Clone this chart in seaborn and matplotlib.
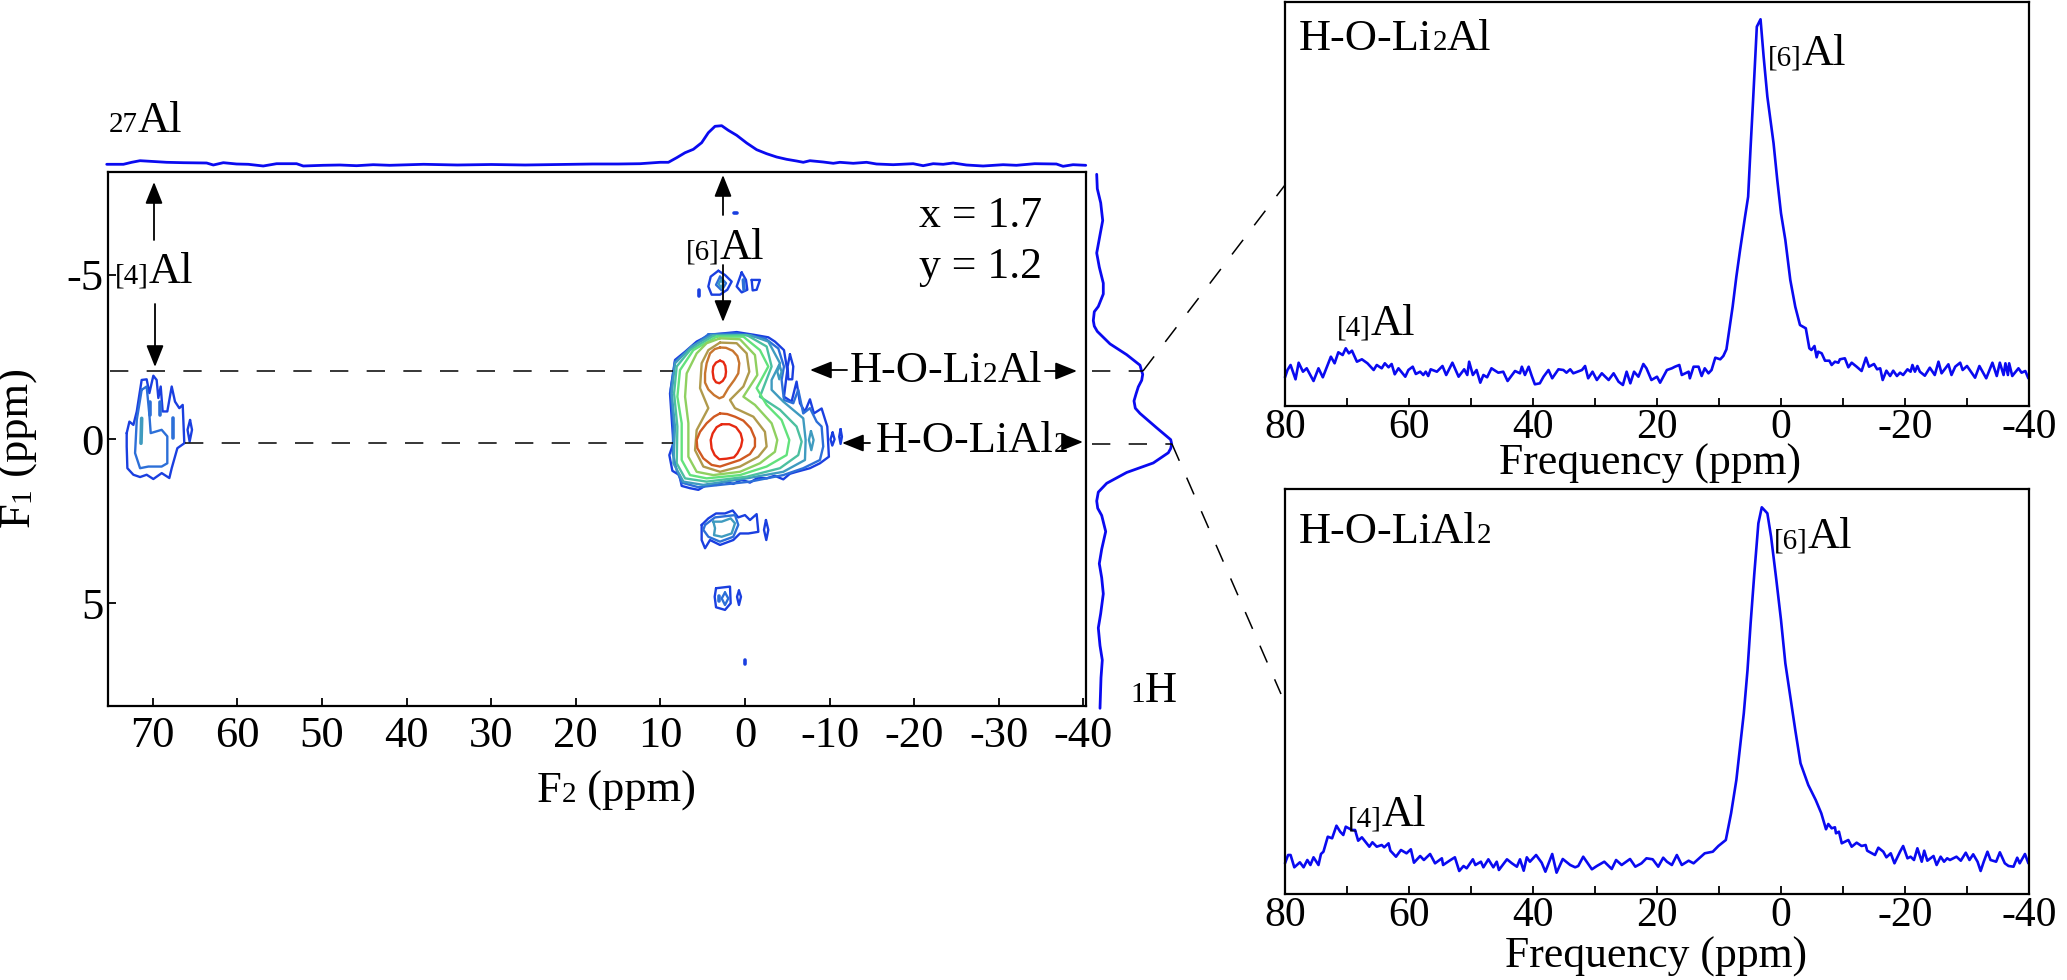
import matplotlib
matplotlib.use("Agg")
import matplotlib.pyplot as plt
import seaborn as sns

sns.set_theme(style="ticks")
plt.rcParams['font.family'] = ['Liberation Serif', 'DejaVu Serif']
plt.rcParams['axes.unicode_minus'] = False

W, H = 2067, 980
BLUE = '#0a0af0'
C1, C2, C3, C4, C5, C6, C7, C8, C9, C10 = ('#1a3fe0', '#2c6fd8', '#3f9bbf', '#4cc0a0', '#62e27c',
                                           '#8fd060', '#b09a4c', '#c8752f', '#d05a22', '#e62a12')

# ---- tick values and labels
F2_TICKS = [70, 60, 50, 40, 30, 20, 10, 0, -10, -20, -30, -40]
F2_LABELS = ['70', '60', '50', '40', '30', '20', '10', '0', '-10', '-20', '-30', '-40']
F1_TICKS = [-5, 0, 5]
F1_LABELS = ['-5', '0', '5']
FREQ_TICKS = [80, 70, 60, 50, 40, 30, 20, 10, 0, -10, -20, -30, -40]
FREQ_LABELS = ['80', '', '60', '', '40', '', '20', '', '0', '', '-20', '', '-40']

# ---- 27Al projection (F2 ppm, intensity)
AL_PPM = [75.45, 73.48, 72.5, 71.51, 70.33, 68.37, 66.4, 63.64, 62.85, 61.67, 60.1, 58.72, 56.95, 55.37, 53.01,
          52.22, 49.86, 47.89, 45.92, 43.95, 41.99, 38, 34, 30, 26, 22, 18, 15,
          12.41, 11.23, 10.05, 9.06, 8.08, 7.09, 6.11, 5.13, 4.34, 3.55, 2.76, 1.98, 0.99, -0.19, -1.37, -2.55,
          -3.73, -4.91, -6.09, -6.88, -7.67, -9.24, -10.43, -11.21, -12.79, -14.36, -15.54, -17.51, -19.87,
          -21.05, -22.24, -23.42, -24.6, -26.17, -28.14, -30.5, -32.08, -34.24, -36.8, -37.59, -38.77, -40.27]
AL_INT = [7.7, 7.7, 9.7, 11.3, 10.7, 9.7, 9.3, 9, 7, 9.3, 8, 7.7, 6, 8.3, 8.3,
          6, 6.7, 7, 6.3, 7.3, 6.7, 7.7, 7, 7.5, 7, 7.5, 8, 8,
          8.3, 9, 9.7, 9.7, 14.3, 19.3, 22.7, 29.3, 39.3, 45.7, 46.3, 41.7, 36.7, 29, 22.3, 18.3,
          15, 12.7, 11, 9.7, 11.3, 10, 8.7, 9.7, 8.7, 9.7, 8, 7.3, 8.3,
          6.3, 8.3, 7.7, 9, 7, 6, 7.3, 6.7, 8.3, 8, 5.7, 7.3, 6.7]

# ---- 1H projection (intensity, F1 ppm)
H_INT = [9.7, 10.3, 13.7, 15.7, 13, 9.7, 12.3, 16.3, 16.3, 11.3, 7.3, 6.3, 7.3, 10.3, 23, 39.7, 53, 54, 55.7, 54.7, 51.3,
         49, 47, 48.3, 53, 69.7, 83.7, 84.7, 83.7, 81.3, 66.3, 39.7, 19.7, 11.3, 9.7, 10.7, 14.7, 18.7, 14.7, 12.3, 14.7,
         16.3, 13.7, 11.3, 13, 15.3, 14, 13]
H_PPM = [-8.07, -7.63, -7.2, -6.66, -6.22, -5.67, -5.24, -4.75, -4.42, -4.04, -3.88, -3.61, -3.44, -3.28, -2.9, -2.57, -2.25,
         -2.14, -1.97, -1.79, -1.59, -1.37, -1.16, -0.94, -0.78, -0.34, 0.02, 0.15, 0.29, 0.42, 0.73, 1.02, 1.35, 1.62, 1.89,
         2.11, 2.33, 2.82, 3.36, 3.8, 4.23, 4.72, 5.32, 5.76, 6.3, 6.74, 7.28, 8.21]

# ---- H-O-Li2Al slice
P1_PPM = [80.0, 79.6, 79.1, 78.3, 77.8, 77.1, 76.5, 75.4, 74.6, 73.9, 73.3, 72.6, 72.0, 71.4, 70.7, 70.2, 69.7, 69.2,
          68.4, 67.6, 66.7, 65.7, 65.2, 64.4, 63.9, 63.3, 62.8, 62.3, 61.7, 60.6, 60.1, 59.4, 58.9, 58.2, 57.7, 57.3,
          56.9, 56.5, 55.5, 54.6, 54.0, 53.0, 52.0, 51.1, 50.6, 50.3, 49.7, 49.1, 48.5, 48.0, 47.4, 46.7, 45.6, 44.8,
          44.1, 42.9, 42.1, 41.8, 41.3, 40.7, 40.2, 39.7, 38.9, 38.3, 37.5, 36.9, 35.9, 35.1, 34.6, 34.0, 33.5, 32.1,
          31.6, 31.1, 30.4, 29.7, 28.9, 27.8, 27.0, 26.2, 25.5, 24.9, 24.3, 23.7, 23.0, 22.2, 21.7, 20.9, 20.0, 19.5,
          18.4, 17.6, 17.1, 16.4, 16.0, 14.9, 14.7, 14.1, 13.3, 12.8, 12.3, 11.7, 11.2, 10.6, 9.8, 9.3, 8.8,
          8.3, 7.8, 7.2, 6.6, 5.8, 5.3, 4.9, 4.5, 3.9, 3.3, 2.8, 2.2, 1.2, 0.6, 0, -0.7, -1.5, -2.3,
          -3.06, -4.0, -4.57, -4.9, -5.4, -5.75, -6.0, -6.56, -7.1, -7.8, -8.17, -8.7, -9.25, -9.5, -10.3, -10.86,
          -11.4, -12.2, -13, -13.7, -14.2, -15, -15.5, -16, -16.4, -17, -17.6, -18.1, -18.7, -19.2, -19.7, -20.4,
          -20.9, -21.2, -21.6, -22, -22.4, -23.2, -24, -24.8, -25.4, -25.9, -27, -27.5, -28.1, -28.9, -29.3, -30,
          -31.3, -32, -33.1, -34.1, -34.8, -35.3, -35.9, -36.2, -36.6, -36.8, -37.3, -38.3, -38.8, -39.4, -39.9]
P1_INT = [28.7, 36, 41, 26.7, 43.3, 34.3, 37.7, 25, 37.7, 28.7, 38.3, 49.3, 42.7, 53.7, 51, 57.7, 52.7, 55.3,
          44.3, 46.7, 42.7, 36, 41, 37.7, 42.7, 38.7, 42, 31.7, 37.7, 29.3, 36, 39.3, 32, 34.3, 31, 34.3,
          30, 36.7, 34.3, 40, 31, 43.3, 29.3, 36.7, 31, 44.3, 31, 36, 23.3, 31, 28.7, 37.7, 33.3, 34.3,
          25, 35, 32.7, 39.3, 31, 39.3, 30, 21.7, 22.7, 29.3, 36, 27.7, 36.7, 36, 33.3, 36.7, 32.7, 36,
          40, 27.7, 34.3, 26, 32.7, 26, 32.7, 24.3, 21, 34.3, 22.7, 34.3, 29.3, 42, 37.7, 26, 29.3, 23.3,
          36, 37.7, 39.3, 41, 31, 34.3, 27.7, 39.3, 39.3, 30, 37.7, 32.7, 36, 48.3, 46.7, 50, 56.7,
          77.7, 99.3, 129.3, 156, 189.3, 209.3, 259.3, 306, 379.3, 386.7, 349.3, 309.3, 262.7, 226, 192.7, 166, 126, 99.3,
          81, 77.7, 57.7, 56, 60, 48.7, 54.3, 52.7, 45.3, 45.3, 41, 44.3, 43.3, 46.7, 47.7, 38.7,
          43.3, 39.3, 35, 48.3, 39.3, 42, 36.7, 37.7, 26, 35.3, 30, 35.3, 30, 33.3, 31, 36.7,
          34.3, 41, 34.3, 40, 34.3, 30.3, 38.3, 31, 44.3, 32.7, 41.7, 31, 39.3, 43.3, 36, 40,
          28.3, 40, 27.7, 43.3, 30, 43.3, 31, 42.7, 31, 42.7, 30, 37.7, 33.3, 35, 27.7]

# ---- H-O-LiAl2 slice
P2_PPM = [80, 79.5, 79.1, 78.5, 77.6, 77, 76.4, 75.9, 75.4, 74.6, 74.2, 73.8, 73.1, 72.4, 71.7, 71.1, 70.6, 70.2, 69.2,
          68.7, 68.2, 67.6, 66.4, 65.9, 65.2, 64.4, 64, 63.3, 63, 62.1, 61.3, 60.4, 59.7, 59.2, 58.2, 57.6, 56.6, 55.8,
          54.7, 54.5, 53.3, 52.6, 51.9, 51.2, 50.7, 49.7, 49.3, 48.4, 48, 47.2, 46.4, 45.85, 45.5, 44.2, 43.4, 42.6,
          42.1, 41.5, 41, 40.5, 39.5, 38.6, 38, 36.9, 36.2, 35.2, 34, 33.2, 32.7, 31.9, 30.5, 29.7, 28.5, 27.3, 26.6,
          25.7, 24.35, 23.5, 22.5, 21.7, 20.7, 19.8, 19, 18.4, 17.6, 16.8, 16, 14.9, 14.1, 12.3, 11, 10.1, 8.9,
          8.05, 7.2, 6.6, 6, 5.4, 4.9, 4.3, 3.65, 3.1, 2.2, 1.6, 0.75, 0, -0.7, -1.5, -2.3, -3.15, -4.4, -5.6, -6.5,
          -7.26, -7.63, -8.17, -8.7, -8.87, -9.35, -9.8, -10.86, -11.4, -12.2, -13, -13.65, -13.9, -15.16, -15.7, -16.5,
          -17, -17.7, -18.3, -19.2, -19.7, -20.4, -20.9, -21.45, -22, -22.7, -23.1, -23.6, -24.6, -25.1, -25.75, -26.3,
          -26.8, -27.25, -28.3, -29, -29.8, -30.4, -31, -31.7, -32.2, -32.7, -33.3, -33.8, -34.7, -35.3, -36.1, -36.7,
          -37.5, -38.1, -38.5, -39.35, -39.9]
P2_INT = [30.7, 39, 39, 26.7, 31.7, 26.7, 34, 29, 36.7, 29, 40, 42.3, 57.3, 55.7, 68.3, 62.3, 59, 67.3, 64,
          64, 53.3, 56.7, 47.3, 51.7, 47.3, 49, 46.7, 50.7, 43.3, 37.3, 44, 40.7, 44.7, 31.3, 38, 34, 40, 30.7,
          35.7, 29, 34, 36.7, 23, 28, 25.7, 34.7, 29, 32.3, 26.7, 34.7, 26.7, 32.3, 24, 34.7, 30.7, 27.3,
          34.7, 23.3, 36.7, 32.3, 39, 31.3, 22.3, 40, 21.3, 35, 29, 26.7, 28, 37.3, 24.7, 28, 32.3, 25, 34,
          29, 35, 27.3, 30.7, 35.7, 34.7, 27.3, 36.3, 32.3, 29, 39, 29, 33.3, 30.7, 40.7, 42.3, 48, 54,
          80.7, 114, 147.3, 180.7, 224, 270.7, 320.7, 370.7, 386.7, 380.7, 357.3, 314, 274, 230.7, 197.3, 164, 130.7, 109, 94, 80.7,
          64.7, 70, 65.7, 66.7, 60.7, 62.3, 50.7, 54, 47.3, 51.3, 48, 49, 43.3, 39, 46.3, 42.3,
          36.7, 40.7, 30.7, 42.3, 48, 35.7, 37.3, 34, 45.7, 32.3, 43.3, 33.3, 38, 29, 37.3, 32.3,
          35.7, 34, 37.3, 33.3, 41.3, 34, 39.7, 32.3, 23, 32.3, 42.3, 34, 32.3, 41.7, 30.7, 28,
          27.3, 36.3, 30.7, 40, 30.7]

# ---- 2D contours as traced (F2 ppm, F1 ppm): main [6]Al site
MAIN_OUTER = [(4.14, -3.18), (2.57, -3.22), (0.99, -3.26), (-0.98, -3.18), (-2.75, -3.10), (-3.53, -2.97), (-4.6, -2.71),
              (-4.99, -2.1), (-4.6, -1.29), (-5.5, -1.14), (-6.09, -1.75), (-6.49, -1.09), (-7.08, -0.83), (-7.67, -1.21),
              (-8.14, -0.78), (-9.05, -0.93), (-9.72, -0.38), (-9.91, 0.54), (-8.85, 0.74), (-7.67, 0.89), (-6.09, 1.0),
              (-5.3, 1.06), (-4.52, 1.23), (-3.5, 1.12), (-2.55, 1.2), (-1.5, 1.18), (-0.58, 1.33), (0.4, 1.24), (1.39, 1.37),
              (2.4, 1.3), (3.36, 1.40), (4.4, 1.38), (5.52, 1.55), (6.5, 1.5), (7.49, 1.43),
              (7.76, 1.10), (8.59, 0.97), (8.95, 0.49), (8.47, 0.13), (8.87, -1.39), (8.28, -2.41), (7.09, -2.66), (5.72, -2.97)]
MAIN_BLUE2 = [(4.34, -3.19), (0.99, -3.22), (-2.35, -3.07), (-3.93, -2.76), (-4.6, -2.21), (-4.32, -1.80), (-4.6, -1.19),
              (-5.7, -1.09), (-6.29, -1.5), (-6.88, -0.78), (-7.67, -0.94), (-8.46, -0.53), (-9.05, -0.38), (-9.24, 0.23),
              (-8.85, 0.64), (-6.88, 0.89), (-4.52, 1.10), (-0.58, 1.30), (5.52, 1.47), (7.49, 1.33), (8.08, 0.95), (8.55, 0.44),
              (8.47, -0.38), (8.79, -1.5), (8.28, -2.36), (6.5, -2.76)]
MAIN_TEAL = [(3.95, -3.17), (-0.58, -3.17), (-2.75, -2.97), (-4.13, -2.31), (-3.14, -1.80), (-3.14, -1.50), (-4.52, -1.14),
             (-6.88, -0.63), (-7.16, 0.03), (-7.08, 0.64), (-4.52, 1.0), (-0.19, 1.20), (4.93, 1.40), (7.29, 1.30), (8.47, 0.74),
             (8.28, -0.38), (8.67, -1.39), (8.28, -2.31), (6.31, -2.82)]
MAIN_TEALGREEN = [(3.75, -3.14), (-0.19, -3.17), (-2.55, -2.82), (-3.14, -2.21), (-1.76, -1.29), (-4.13, -0.89), (-6.09, -0.38),
                  (-6.69, 0.08), (-6.29, 0.49), (-4.13, 0.89), (-0.19, 1.15), (4.54, 1.30), (7.09, 1.20), (8.08, 0.74), (8.0, -0.38),
                  (8.39, -1.39), (8.08, -2.21), (6.5, -2.71)]
MAIN_GREEN = [(3.36, -3.12), (0.20, -3.12), (-1.76, -2.71), (-2.75, -2.21), (-1.37, -1.55), (-2.55, -1.04), (-4.32, -0.58),
              (-5.23, 0.03), (-4.91, 0.49), (-2.55, 0.84), (0.60, 1.10), (4.54, 1.20), (6.50, 1.10), (7.49, 0.64), (7.49, -0.48),
              (8.0, -1.29), (7.69, -2.10), (6.11, -2.71)]
MAIN_YGREEN = [(2.96, -3.07), (0.60, -3.04), (-1.17, -2.56), (-1.45, -1.95), (0.20, -1.29), (-1.17, -1.04), (-3.14, -0.48),
               (-3.81, 0.03), (-3.53, 0.39), (-1.76, 0.74), (0.60, 1.0), (3.75, 1.10), (5.72, 1.0), (6.70, 0.54), (6.70, -0.48),
               (7.09, -1.29), (6.90, -2.0), (5.72, -2.61), (4.54, -2.92)]
MAIN_OLIVE = [(2.96, -2.94), (0.99, -2.92), (-0.19, -2.61), (-0.50, -2.05), (0.20, -1.60), (1.78, -1.19), (1.19, -0.94),
              (-0.98, -0.68), (-2.35, -0.22), (-2.55, 0.23), (-1.57, 0.54), (0.60, 0.84), (2.96, 1.0), (4.93, 0.84), (5.91, 0.34),
              (5.72, -0.27), (4.34, -0.94), (5.32, -1.55), (5.13, -2.31), (4.34, -2.71)]
ORANGE_TOP = [(2.96, -2.79), (2.25, -2.78), (1.46, -2.69), (0.91, -2.53), (0.68, -2.31), (0.8, -2.0), (1.27, -1.8), (1.98, -1.55),
              (2.57, -1.29), (3.04, -1.24), (3.67, -1.34), (4.34, -1.51), (4.73, -1.72), (4.73, -2.0), (4.54, -2.31), (4.14, -2.61), (3.59, -2.74)]
ORANGE_BOT = [(2.96, -0.78), (2.1, -0.76), (1.19, -0.68), (0.2, -0.56), (-0.66, -0.33), (-1.17, -0.02), (-1.17, 0.23), (-0.58, 0.46),
              (0.6, 0.64), (1.78, 0.74), (2.96, 0.84), (3.95, 0.79), (4.93, 0.59), (5.64, 0.28), (5.72, 0.03), (5.32, -0.22), (4.54, -0.48), (3.67, -0.68)]
RED_TOP = [(2.96, -2.39), (2.57, -2.35), (2.33, -2.23), (2.25, -2.05), (2.33, -1.90), (2.64, -1.77), (3.04, -1.70), (3.43, -1.73),
           (3.71, -1.84), (3.83, -2.05), (3.75, -2.21), (3.43, -2.33)]
RED_BOT = [(2.76, -0.45), (1.86, -0.45), (1.07, -0.36), (0.52, -0.17), (0.32, 0.03), (0.48, 0.23), (0.91, 0.44), (1.31, 0.56), (2.17, 0.6),
           (3.04, 0.62), (3.59, 0.49), (3.95, 0.29), (4.06, 0.03), (3.83, -0.17), (3.36, -0.36)]
ISLE_A = [(-5.31, -2.58), (-5.7, -2.21), (-5.58, -1.82), (-5.11, -1.82), (-5.03, -2.21)]
ISLE_A2 = [(-4.05, -2.26), (-4.32, -2.05), (-4.05, -1.82), (-3.81, -2.05)]
ISLE_B = [(-7.79, -0.24), (-8.1, 0.03), (-7.83, 0.34), (-7.55, 0.03)]
ISLE_C = [(-10.35, -0.2), (-10.58, 0.01), (-10.31, 0.2), (-10.1, 0.01)]
ISLE_D = [(-11.29, -0.3), (-11.45, -0.07), (-11.29, 0.15), (-11.13, -0.07)]

# ---- side bands at F1 = 2.7
LOW_OUTER = [(5.13, 2.62), (4.34, 2.42), (3.43, 2.27), (2.37, 2.27), (1.46, 2.18), (0.8, 2.39), (0.01, 2.32), (-0.58, 2.47),
             (-1.37, 2.29), (-1.57, 2.83), (-0.39, 2.88), (0.6, 2.88), (1.39, 3.08), (2.96, 3.23), (4.14, 3.08), (4.73, 3.33), (5.13, 3.08)]
LOW_MID = [(4.73, 2.62), (3.55, 2.39), (1.19, 2.32), (0.8, 2.62), (1.39, 2.98), (2.96, 3.13), (4.34, 2.98), (4.93, 2.77)]
LOW_TEAL = [(3.75, 2.52), (2.76, 2.52), (1.70, 2.42), (1.19, 2.57), (1.59, 2.88), (2.76, 2.98), (3.67, 2.93), (3.55, 2.72)]
LOW_ISLE = [(-2.47, 2.47), (-2.75, 2.77), (-2.51, 3.08), (-2.24, 2.77)]
# ---- side bands at F1 = 4.8
LOW2_OUTER = [(3.43, 4.55), (1.78, 4.5), (1.70, 5.01), (2.37, 5.21), (3.43, 5.13), (3.59, 4.81)]
LOW2_INNER = [(2.37, 4.68), (1.98, 4.86), (2.37, 5.06), (2.76, 4.86)]
LOW2_ISLE = [(0.72, 4.62), (0.48, 4.81), (0.72, 5.06), (0.95, 4.81)]
# ---- side bands at F1 = -4.8
UP_OUTER = [(3.16, -5.13), (2.37, -5.0), (1.58, -4.8), (2.1, -4.55), (2.96, -4.4), (3.95, -4.4), (4.34, -4.65), (4.06, -4.95)]
UP_INNER = [(2.96, -4.95), (2.25, -4.75), (2.76, -4.53), (3.43, -4.7)]
UP_TEAL = [(2.84, -4.85), (2.57, -4.73), (2.84, -4.62), (3.12, -4.73)]
UP_RIGHT = [(0.4, -5.08), (-0.11, -4.85), (-0.27, -4.55), (0.4, -4.47), (0.99, -4.65)]
UP_FAR = [(-0.78, -4.85), (-1.76, -4.85), (-1.37, -4.55), (-0.9, -4.53)]
# ---- [4]Al site
TET_OUTER = [(73.09, -0.18), (72.77, -0.53), (72.3, -0.43), (71.9, -0.84), (71.32, -1.80), (70.73, -1.82), (70.41, -1.40),
             (69.94, -1.93), (69.55, -1.80), (69.35, -1.25), (69.07, -1.6), (68.84, -0.84), (68.29, -0.84), (67.77, -1.6),
             (67.38, -1.14), (66.87, -0.94), (66.47, -1.04), (66.28, 0.13), (67.1, 0.28), (67.77, 0.89), (68.05, 1.19),
             (68.95, 1.04), (69.94, 1.22), (70.73, 1.09), (71.51, 1.16), (72.3, 1.09), (73.01, 0.89), (73.09, 0.23)]
TET_INNER = [(71.32, -1.5), (70.73, -1.6), (70.41, -0.74), (70.25, -0.18), (68.96, -0.28), (68.29, -0.08), (68.29, 0.74),
             (68.96, 0.84), (70.53, 0.84), (71.51, 0.89), (72.1, 0.43), (71.9, -0.58)]
TET_ISLE = [(65.6, -0.58), (65.37, -0.28), (65.65, 0.08), (65.9, -0.28)]

# ---- short specks (open traces, F2 ppm, F1 ppm)
SPECK_TEAL = [(71.32, -0.63), (71.4, 0.13)]
SPECK_B1 = [(67.58, -0.63), (67.58, -0.02)]
SPECK_B2 = [(70.33, -1.14), (70.33, -0.74)]
SPECK_B3 = [(69.15, -1.14), (69.15, -0.74)]
SPECK_UP1 = [(0.2, -4.85), (0.12, -4.55)]
SPECK_UP2 = [(5.4, -4.53), (5.4, -4.35)]
SPECK_UP3 = [(1.27, -6.88), (1.0, -6.88)]
SPECK_L1 = [(3.12, 4.79), (3.12, 4.93)]
SPECK_L2 = [(-0.03, 6.74), (-0.03, 6.87)]

CLOSED = [(MAIN_OUTER, C1), (ISLE_A, C1), (ISLE_C, C1), (ISLE_D, C1), (MAIN_BLUE2, C2), (ISLE_A2, C3), (ISLE_B, C3),
          (MAIN_TEAL, C3), (MAIN_TEALGREEN, C4), (MAIN_GREEN, C5), (MAIN_YGREEN, C6), (MAIN_OLIVE, C7),
          (ORANGE_TOP, C8), (ORANGE_BOT, C9), (RED_TOP, C10), (RED_BOT, C10),
          (LOW_OUTER, C1), (LOW_ISLE, C1), (LOW_MID, C2), (LOW_TEAL, C3),
          (LOW2_OUTER, C1), (LOW2_ISLE, C1), (LOW2_INNER, C2),
          (UP_OUTER, C1), (UP_RIGHT, C1), (UP_FAR, C1), (UP_INNER, C2), (UP_TEAL, C3),
          (TET_OUTER, C1), (TET_ISLE, C1), (TET_INNER, C2)]
OPEN = [(SPECK_TEAL, C3), (SPECK_B1, C2), (SPECK_B2, C2), (SPECK_B3, C2), (SPECK_UP1, C2), (SPECK_UP2, C1),
        (SPECK_UP3, C1), (SPECK_L1, C2), (SPECK_L2, C1)]

fig = plt.figure(figsize=(W / 100, H / 100), dpi=100, facecolor='white')


def px_axes(left, top, right, bottom):
    return fig.add_axes([left / W, 1 - bottom / H, (right - left) / W, (bottom - top) / H])


def draw(ax, xs, ys, color, lw):
    sns.lineplot(x=list(xs), y=list(ys), ax=ax, color=color, linewidth=lw, sort=False, estimator=None,
                 errorbar=None, legend=False, clip_on=False)


def trace(ax, pts, color, lw, closed=True):
    seq = list(pts) + ([pts[0]] if closed else [])
    draw(ax, [p[0] for p in seq], [p[1] for p in seq], color, lw)


# main 2D panel
ax = px_axes(108, 172, 1086, 706)
for pts, col in CLOSED:
    trace(ax, pts, col, 1.7)
for pts, col in OPEN:
    trace(ax, pts, col, 2.6, closed=False)
ax.set_xlim(75.3, -40.3)
ax.set_ylim(8.14, -8.14)
ax.set_xticks(F2_TICKS, F2_LABELS)
ax.set_yticks(F1_TICKS, F1_LABELS)
ax.tick_params(direction='in', length=6, width=1.3, labelsize=32, color='black', labelcolor='black', pad=3.5)
ax.tick_params(axis='x', pad=7)
for s in ax.spines.values():
    s.set_linewidth(1.6)
    s.set_color('black')
ax.set_xlabel('')
ax.set_ylabel('')

# 27Al projection above the panel
top = px_axes(108, 120, 1086, 172)
draw(top, AL_PPM, AL_INT, BLUE, 2)
top.set_xlim(75.3, -40.3)
top.set_ylim(0, 52)
top.axis('off')

# 1H projection right of the panel
side = px_axes(1087, 172, 1180, 706)
draw(side, H_INT, H_PPM, BLUE, 2)
side.set_xlim(0, 93)
side.set_ylim(8.14, -8.14)
side.axis('off')

# slices
for (l, t, b), xs, ys in [((1285, 2, 406), P1_PPM, P1_INT), ((1285, 489, 894), P2_PPM, P2_INT)]:
    a = px_axes(l, t, 2029, b)
    draw(a, xs, ys, BLUE, 1.9)
    a.set_xlim(80, -40)
    a.set_ylim(0, b - t)
    a.set_xticks(FREQ_TICKS, FREQ_LABELS)
    a.set_yticks([])
    a.tick_params(direction='in', length=5.5, width=1.3, labelsize=30, color='black', labelcolor='black', pad=2)
    for s in a.spines.values():
        s.set_linewidth(1.6)
        s.set_color('black')
    a.set_xlabel('')
    a.set_ylabel('')

# overlay in figure pixels for labels, arrows and leader lines
ov = fig.add_axes([0, 0, 1, 1], facecolor='none')
ov.set_xlim(0, W)
ov.set_ylim(H, 0)
ov.axis('off')

fig.canvas.draw()
rend = fig.canvas.get_renderer()
BIG, SMALL = 32, 21


def advance(s, size):
    fp = matplotlib.font_manager.FontProperties(family='Liberation Serif', size=size)
    return (rend.get_text_width_height_descent('|' + s + '|', fp, False)[0]
            - rend.get_text_width_height_descent('||', fp, False)[0])


def rich(x, y, parts, rotation=0):
    for s, size in parts:
        ov.text(x, y, s, fontsize=size, ha='left', va='baseline', rotation=rotation, rotation_mode='anchor', color='black')
        if rotation:
            y -= advance(s, size)
        else:
            x += advance(s, size)


rich(109, 132, [('27', SMALL), ('Al', BIG)])
rich(115, 283, [('[4]', SMALL), ('Al', BIG)])
rich(686, 259, [('[6]', SMALL), ('Al', BIG)])
rich(919, 227, [('x = 1.7', 31.5)])
rich(919, 278, [('y = 1.2', 31.5)])
rich(850, 382, [('H-O-Li', BIG), ('2', SMALL), ('Al', BIG)])
rich(876, 452, [('H-O-LiAl', BIG), ('2', SMALL)])
rich(1130, 702, [('1', SMALL), ('H', BIG)])
rich(537, 802, [('F', BIG), ('2', SMALL), (' (ppm)', BIG)])
rich(29, 527, [('F', BIG), ('1', SMALL), (' (ppm)', BIG)], rotation=90)
rich(1299, 50, [('H-O-Li', BIG), ('2', SMALL), ('Al', BIG)])
rich(1768, 65, [('[6]', SMALL), ('Al', BIG)])
rich(1337, 335, [('[4]', SMALL), ('Al', BIG)])
rich(1299, 543, [('H-O-LiAl', BIG), ('2', SMALL)])
rich(1774, 548, [('[6]', SMALL), ('Al', BIG)])
rich(1348, 826, [('[4]', SMALL), ('Al', BIG)])
ov.text(1650, 475, 'Frequency (ppm)', fontsize=31.5, ha='center', va='baseline', color='black')
ov.text(1656, 968, 'Frequency (ppm)', fontsize=31.5, ha='center', va='baseline', color='black')

for (x0, y0), (x1, y1) in [((154, 240), (154, 182)), ((155, 304), (155, 367)), ((723, 215), (723, 175)), ((723, 265), (723, 322)),
                           ((847, 370), (810, 370)), ((1045, 371), (1077, 371)), ((870, 443), (842, 443)), ((1064, 442), (1083, 442))]:
    ov.annotate('', xy=(x1, y1), xytext=(x0, y0),
                arrowprops=dict(arrowstyle='-|>,head_length=0.95,head_width=0.38', lw=1.3, color='black',
                                mutation_scale=14, shrinkA=0, shrinkB=0))

LW = 1.1
DASH = (0, (12, 12))
for (x0, y0), (x1, y1) in [((110, 371), (673, 371)), ((185, 443), (673, 443)), ((1092, 371), (1143, 371)), ((1092, 444), (1172, 444)),
                           ((1143, 371), (1285, 185)), ((1172, 444), (1281, 694))]:
    ov.plot([x0, x1], [y0, y1], color='black', lw=LW, linestyle=DASH, dash_capstyle='butt')
ov.set_xlim(0, W)
ov.set_ylim(H, 0)

fig.savefig('out.png', dpi=100, facecolor='white')
